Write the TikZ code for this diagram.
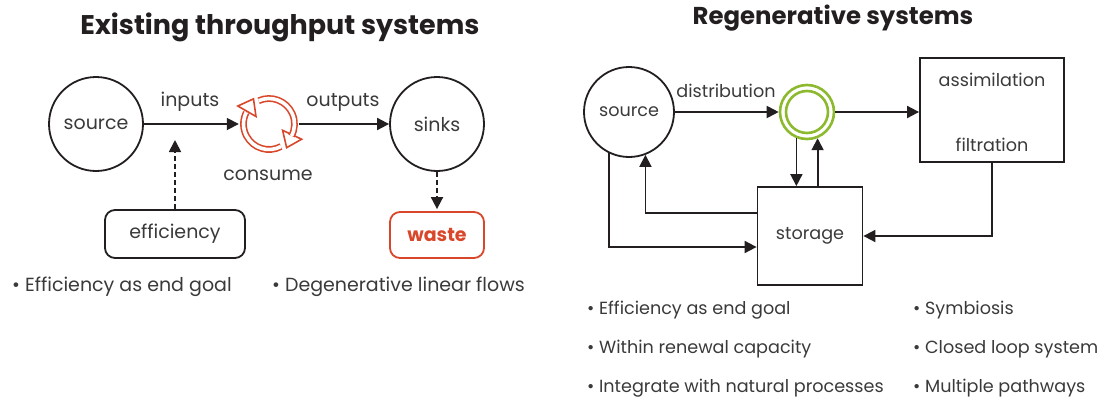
\documentclass[tikz,border=0pt]{standalone}
\usepackage{fontspec}
\setmainfont{Poppins}
\usetikzlibrary{arrows.meta}
\definecolor{ink}{HTML}{231F20}
\definecolor{txt}{HTML}{3A3A3A}
\definecolor{wred}{HTML}{D9472B}
\definecolor{lgreen}{HTML}{8DB92E}
\newcommand{\bodyfont}{\fontsize{16}{19}\selectfont}
\tikzset{
  circ/.style={circle, draw=ink, line width=1.8pt, minimum size=94pt, inner sep=0pt, text=txt, font=\bodyfont},
  boxnode/.style={rectangle, draw=ink, line width=1.8pt, inner sep=0pt, text=txt, font=\bodyfont},
  lbl/.style={text=txt, font=\bodyfont, inner sep=0pt},
  bul/.style={text=txt, font=\bodyfont, inner sep=0pt, anchor=west},
  ttl/.style={text=ink, font=\bfseries, inner sep=0pt},
  arr/.style={draw=ink, line width=1.8pt, -{Triangle[length=12pt,width=12pt]}},
  dasharr/.style={arr, dash pattern=on 5pt off 3pt},
  cyc/.style={wred, line width=1.6pt, double=white, double distance=3.6pt},
  cyctip/.style={draw=wred, fill=white, line width=1.6pt, line join=miter}
}
\begin{document}
\begin{tikzpicture}[x=1pt, y=-1pt]
\useasboundingbox (0,0) rectangle (1104,400);
% ---------- left ----------
\begin{scope}
\renewcommand{\bodyfont}{\fontsize{19}{22}\selectfont}
\node[ttl, font=\fontsize{27}{32}\selectfont\bfseries] (t1) at (280,27) {Existing throughput systems};
\node[circ] (src1) at (96,124) {source};
\node[circ] (snk) at (437,124) {sinks};
\node[circle, minimum size=60pt, inner sep=0pt] (cyc) at (269,124) {};
\node[lbl] (inp) at (190,102) {inputs};
\node[lbl] (outp) at (343,102) {outputs};
\node[lbl] (cons) at (268,175) {consume};
\node[boxnode, rounded corners=10pt, minimum width=140pt, minimum height=48pt] (eff) at (175,234) {efficiency};
\node[boxnode, draw=wred, text=wred, rounded corners=10pt, minimum width=94pt, minimum height=46pt, font=\bodyfont\bfseries] (waste) at (437,235) {waste};
\coordinate (effTip) at (175,140);
\draw[arr] (src1.east) -- (cyc.west);
\draw[arr] (cyc.east) -- (snk.west);
\draw[dasharr] (eff.north) -- (effTip);
\draw[dasharr, shorten >=2pt] (snk.south) -- (waste.north);
% cycle symbol (explicit pt units: standard math angles)
\begin{scope}[shift={(269,124)}]
  \begin{scope}[rotate=150]
    \filldraw[cyctip] (15pt,0pt) -- (36pt,0pt) -- (26pt,-14pt) -- cycle;
  \end{scope}
  \begin{scope}[rotate=-25]
    \filldraw[cyctip] (15pt,0pt) -- (36pt,0pt) -- (26pt,-14pt) -- cycle;
  \end{scope}
  \draw[cyc] (-62:25.5pt) arc[start angle=-62, end angle=-207, radius=25.5pt];
  \draw[cyc] (114:25.5pt) arc[start angle=114, end angle=-28, radius=25.5pt];
\end{scope}
\node[bul] (b1) at (12,287) {• Efficiency as end goal};
\node[bul] (b2) at (272,287) {• Degenerative linear flows};
\end{scope}
% ---------- right ----------
\begin{scope}
\renewcommand{\bodyfont}{\fontsize{17.6}{21}\selectfont}
\node[ttl, font=\fontsize{24.4}{29}\selectfont\bfseries] (t2) at (833,18) {Regenerative systems};
\node[circ, minimum size=90pt] (src2) at (629,112) {source};
\node[circle, draw=lgreen, line width=2.6pt, minimum size=54pt, inner sep=0pt] (grn) at (807,112) {};
\draw[lgreen, line width=2.6pt] (grn.center) circle (21pt);
\node[boxnode, minimum width=144pt, minimum height=104pt] (asf) at (992,110) {};
\node[lbl] (assim) at (992,80) {assimilation};
\node[lbl] (filt) at (992,145) {filtration};
\node[boxnode, minimum width=105pt, minimum height=98pt] (sto) at (810,236) {storage};
\node[lbl] (dist) at (726,91) {distribution};
\draw[arr] (src2.east) -- (grn.west);
\draw[arr] (grn.east) -- (grn.east -| asf.west);
\draw[arr] (grn.248) -- (grn.248 |- sto.north);
\draw[arr] (grn.292 |- sto.north) -- (grn.292);
\draw[arr] ([yshift=23pt]sto.west) -| (src2.291);
\draw[arr] (src2.244) |- ([yshift=-11pt]sto.west);
\draw[arr] (asf.south) |- (sto.east);
\node[bul] (r1) at (587,310) {• Efficiency as end goal};
\node[bul] (r2) at (587,349) {• Within renewal capacity};
\node[bul] (r3) at (587,388) {• Integrate with natural processes};
\node[bul] (r4) at (913,310) {• Symbiosis};
\node[bul] (r5) at (913,349) {• Closed loop system};
\node[bul] (r6) at (913,388) {• Multiple pathways};
\end{scope}
\end{tikzpicture}
\end{document}
